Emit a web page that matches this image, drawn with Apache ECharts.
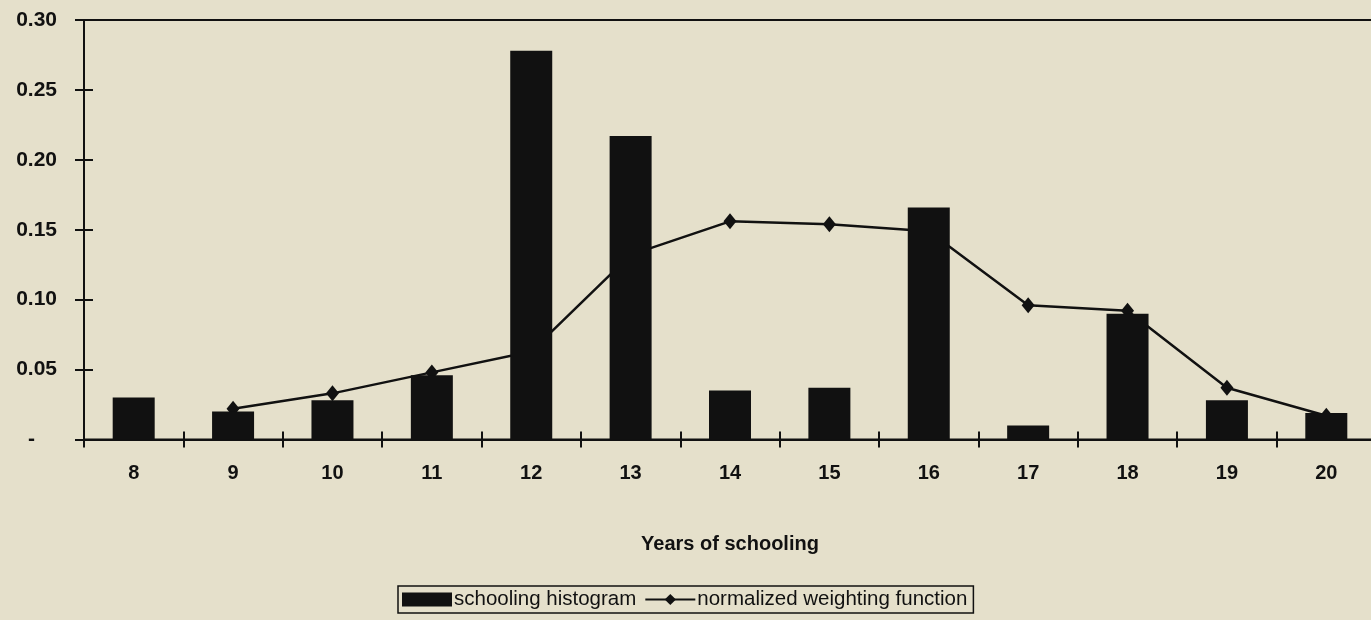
<!DOCTYPE html>
<html>
<head>
<meta charset="utf-8">
<script src="https://cdn.jsdelivr.net/npm/echarts@6/dist/echarts.min.js"></script>
<style>
html,body{margin:0;padding:0;background:#e5e0cb;}
#chart{width:1371px;height:620px;}
</style>
</head>
<body>
<div id="chart"></div>
<script>
const categories = ['8','9','10','11','12','13','14','15','16','17','18','19','20'];
const histogram = [0.030, 0.020, 0.028, 0.046, 0.278, 0.217, 0.035, 0.037, 0.166, 0.010, 0.090, 0.028, 0.019];
const weighting = [null, 0.022, 0.033, 0.048, 0.063, 0.132, 0.156, 0.154, 0.149, 0.096, 0.092, 0.037, 0.017];
const yTicks = [0, 0.05, 0.10, 0.15, 0.20, 0.25, 0.30];

const FONT = '"Liberation Sans", Arial, Helvetica, sans-serif';
const chart = echarts.init(document.getElementById('chart'), null, {renderer: 'canvas'});

const yBase = {
  type: 'value', min: yTicks[0], max: yTicks[yTicks.length - 1], interval: 0.05,
  position: 'left', offset: 0, splitLine: {show: false}
};
const xBase = {type: 'category', data: categories, boundaryGap: true, position: 'bottom', offset: 0};

chart.setOption({
  backgroundColor: '#e5e0cb',
  animation: false,
  textStyle: {fontFamily: FONT, color: '#111'},
  grid: {left: 84, top: 20, width: 1292, height: 419.5, outerBoundsMode: 'none', containLabel: false,
         show: true, borderColor: '#111', borderWidth: 2, backgroundColor: 'transparent'},
  legend: {
    left: 398, top: 586,
    data: [{name: 'schooling histogram', icon: 'rect'}, {name: 'normalized weighting function'}],
    borderColor: '#111', borderWidth: 1.5, padding: [3, 6, 3, 4],
    itemWidth: 50, itemHeight: 14, itemGap: 8,
    textStyle: {fontFamily: FONT, fontSize: 20.5, color: '#111', padding: [0, 0, 0, -3]}
  },
  xAxis: [
    Object.assign({}, xBase, {
      axisLine: {show: true, lineStyle: {color: '#111', width: 2}},
      axisTick: {show: true, inside: false, length: 8, lineStyle: {color: '#111', width: 2}},
      axisLabel: {fontFamily: FONT, fontSize: 20, fontWeight: 'bold', color: '#111', margin: 24},
      name: 'Years of schooling', nameLocation: 'middle', nameGap: 95,
      nameTextStyle: {fontFamily: FONT, fontSize: 20, fontWeight: 'bold', color: '#111'}
    }),
    Object.assign({}, xBase, {
      axisLine: {show: false},
      axisTick: {show: true, inside: true, length: 8, lineStyle: {color: '#111', width: 2}},
      axisLabel: {show: false}
    })
  ],
  yAxis: [
    Object.assign({}, yBase, {
      axisLine: {show: true, lineStyle: {color: '#111', width: 2}},
      axisTick: {show: true, inside: false, length: 9, lineStyle: {color: '#111', width: 2}},
      axisLabel: {
        fontFamily: FONT, fontSize: 21, fontWeight: 'bold', color: '#111', margin: 27,
        formatter: v => (Math.abs(v) < 1e-9 ? '{d|-}' : v.toFixed(2)),
        rich: {d: {fontFamily: FONT, fontSize: 21, fontWeight: 'bold', color: '#111', padding: [0, 22, 0, 0]}}
      }
    }),
    Object.assign({}, yBase, {
      axisLine: {show: false},
      axisTick: {show: true, inside: true, length: 9, lineStyle: {color: '#111', width: 2}},
      axisLabel: {show: false}
    })
  ],
  series: [
    {
      name: 'schooling histogram', type: 'bar', data: histogram,
      xAxisIndex: 0, yAxisIndex: 0, barWidth: 42,
      itemStyle: {color: '#111'}, z: 3
    },
    {
      name: 'normalized weighting function', type: 'line', data: weighting,
      xAxisIndex: 0, yAxisIndex: 0,
      symbol: 'diamond', symbolSize: [13, 16], showSymbol: true,
      lineStyle: {color: '#111', width: 2.5}, itemStyle: {color: '#111'}, z: 2
    }
  ]
});
</script>
</body>
</html>
